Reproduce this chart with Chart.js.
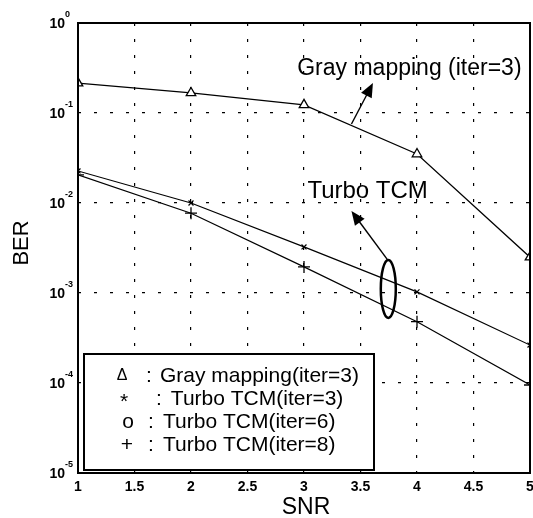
<!DOCTYPE html>
<html>
<head>
<meta charset="utf-8">
<script src="https://cdn.jsdelivr.net/npm/chart.js@4"></script>
<style>
    body { margin: 0; background: #fff; }
    canvas { display: block; }
</style>
</head>
<body>
<canvas id="myChart" width="533" height="518"></canvas>
<script>
// values
const snrValues = [1, 2, 3, 4, 5];
const grayBer = [0.215, 0.167, 0.123, 0.035, 0.0025];
const tcm3Ber = [0.0227, 0.0100, 0.00325, 0.00103, 0.000264];
const tcm6Ber = [];
const tcm8Ber = [0.0205, 0.0077, 0.00195, 0.00048, 0.000095];

const xTickValues = [1, 1.5, 2, 2.5, 3, 3.5, 4, 4.5, 5];
const yTickExps = [0, -1, -2, -3, -4, -5];

const legendMarks = ['\u0394', '*', 'o', '+'];
const legendLabels = ['Gray mapping(iter=3)', ' Turbo TCM(iter=3)', 'Turbo TCM(iter=6)', 'Turbo TCM(iter=8)'];

const fontFamily = '"Liberation Sans", Arial, sans-serif';

function toPoints(ys) {
    let pts = [];
    for (let i = 0; i < ys.length; i++) {
        pts.push({x: snrValues[i], y: ys[i]});
    }
    return pts;
}

function arrow(ctx, x1, y1, x2, y2) {
    let ang = Math.atan2(y2 - y1, x2 - x1);
    let len = 14, wid = 6;
    ctx.beginPath();
    ctx.moveTo(x1, y1);
    ctx.lineTo(x2 - Math.cos(ang) * len * 0.8, y2 - Math.sin(ang) * len * 0.8);
    ctx.stroke();
    ctx.beginPath();
    ctx.moveTo(x2, y2);
    ctx.lineTo(x2 - Math.cos(ang) * len - Math.sin(ang) * wid, y2 - Math.sin(ang) * len + Math.cos(ang) * wid);
    ctx.lineTo(x2 - Math.cos(ang) * len + Math.sin(ang) * wid, y2 - Math.sin(ang) * len - Math.cos(ang) * wid);
    ctx.closePath();
    ctx.fill();
}

const decorPlugin = {
    id: 'decor',
    afterDraw(chart) {
        const ctx = chart.ctx;
        const area = chart.chartArea;
        const xs = chart.scales.x;
        const ys = chart.scales.y;
        ctx.save();
        ctx.fillStyle = '#000';
        ctx.strokeStyle = '#000';

        // frame
        ctx.lineWidth = 2;
        ctx.strokeRect(area.left, area.top, area.right - area.left, area.bottom - area.top);

        // y tick labels 10^n
        for (let i = 0; i < yTickExps.length; i++) {
            let py = ys.getPixelForValue(Math.pow(10, yTickExps[i]));
            ctx.font = 'bold 14px ' + fontFamily;
            ctx.textAlign = 'right';
            ctx.textBaseline = 'middle';
            ctx.fillText('10', 65, py + 1);
            ctx.font = 'bold 9px ' + fontFamily;
            ctx.textAlign = 'left';
            ctx.fillText(yTickExps[i] === 0 ? '0' : String(yTickExps[i]), 65, py - 8);
        }

        // x tick labels
        ctx.font = 'bold 14px ' + fontFamily;
        ctx.textAlign = 'center';
        ctx.textBaseline = 'middle';
        for (let i = 0; i < xTickValues.length; i++) {
            ctx.fillText(String(xTickValues[i]), xs.getPixelForValue(xTickValues[i]), 487);
        }

        // axis titles
        ctx.font = '23px ' + fontFamily;
        ctx.fillText('SNR', 306, 508);
        ctx.save();
        ctx.translate(22, 243);
        ctx.rotate(-Math.PI / 2);
        ctx.font = '22px ' + fontFamily;
        ctx.fillText('BER', 0, 0);
        ctx.restore();

        // annotations
        ctx.font = '23px ' + fontFamily;
        ctx.textAlign = 'left';
        ctx.textBaseline = 'alphabetic';
        ctx.fillText('Gray mapping (iter=3)', xs.getPixelForValue(2.94), ys.getPixelForValue(0.264));
        ctx.lineWidth = 1.4;
        arrow(ctx, xs.getPixelForValue(3.42), ys.getPixelForValue(0.0755), xs.getPixelForValue(3.61), ys.getPixelForValue(0.215));

        ctx.font = '24px ' + fontFamily;
        ctx.fillText('Turbo TCM', xs.getPixelForValue(3.03), ys.getPixelForValue(0.0114));
        arrow(ctx, xs.getPixelForValue(3.74), ys.getPixelForValue(0.00233), xs.getPixelForValue(3.42), ys.getPixelForValue(0.00815));

        ctx.lineWidth = 2.5;
        ctx.beginPath();
        ctx.ellipse(xs.getPixelForValue(3.746), ys.getPixelForValue(0.00111), 7.5, 29, 0, 0, Math.PI * 2);
        ctx.stroke();

        // legend box
        ctx.fillStyle = '#fff';
        ctx.fillRect(84, 354, 290, 116);
        ctx.lineWidth = 2;
        ctx.strokeRect(84, 354, 290, 116);
        ctx.fillStyle = '#000';
        ctx.textBaseline = 'middle';
        const markX = [122, 124, 128, 127];
        const colonX = [149, 159, 151, 151];
        const textX = [160, 165, 163, 163];
        for (let i = 0; i < legendLabels.length; i++) {
            let ly = 376 + i * 23;
            ctx.textAlign = 'center';
            ctx.font = (i === 0 ? '16px ' : '21px ') + fontFamily;
            ctx.fillText(legendMarks[i], markX[i], ly + (i === 1 ? 3 : 0));
            ctx.font = '21px ' + fontFamily;
            ctx.fillText(':', colonX[i], ly);
            ctx.textAlign = 'left';
            ctx.fillText(legendLabels[i], textX[i], ly);
        }
        ctx.restore();
    }
};

const ctx = document.getElementById('myChart').getContext('2d');

const myChart = new Chart(ctx, {
    type: 'line',
    data: {
        datasets: [{
            label: 'Gray mapping(iter=3)',
            data: toPoints(grayBer),
            borderColor: '#000',
            backgroundColor: '#fff',
            borderWidth: 1.2,
            pointStyle: 'triangle',
            pointRadius: 5.5,
            pointBorderWidth: 1.3
        }, {
            label: 'Turbo TCM(iter=3)',
            data: toPoints(tcm3Ber),
            borderColor: '#000',
            backgroundColor: '#fff',
            borderWidth: 1.2,
            pointStyle: 'crossRot',
            pointRadius: 3.5,
            pointBorderWidth: 1.2
        }, {
            label: 'Turbo TCM(iter=6)',
            data: toPoints(tcm6Ber),
            borderColor: '#000',
            backgroundColor: '#fff',
            borderWidth: 1.2,
            pointStyle: 'circle',
            pointRadius: 4
        }, {
            label: 'Turbo TCM(iter=8)',
            data: toPoints(tcm8Ber),
            borderColor: '#000',
            backgroundColor: '#fff',
            borderWidth: 1.2,
            pointStyle: 'cross',
            pointRadius: 6,
            pointBorderWidth: 1.3
        }]
    },
    options: {
        responsive: false,
        animation: false,
        layout: {
            autoPadding: false,
            padding: {left: 78, right: 3, top: 23, bottom: 45}
        },
        plugins: {
            legend: {display: false},
            tooltip: {enabled: false}
        },
        scales: {
            x: {
                type: 'linear',
                min: 1,
                max: 5,
                afterBuildTicks: (scale) => {
                    scale.ticks = xTickValues.map(v => ({value: v}));
                },
                ticks: {display: false},
                grid: {color: '#000', lineWidth: 1.2, drawTicks: false},
                border: {display: false, dash: [3, 13]}
            },
            y: {
                type: 'logarithmic',
                min: 1e-5,
                max: 1,
                afterBuildTicks: (scale) => {
                    scale.ticks = yTickExps.map(e => ({value: Math.pow(10, e)}));
                },
                ticks: {display: false},
                grid: {color: '#000', lineWidth: 1.2, drawTicks: false},
                border: {display: false, dash: [3, 13]}
            }
        }
    },
    plugins: [decorPlugin]
});
</script>
</body>
</html>
